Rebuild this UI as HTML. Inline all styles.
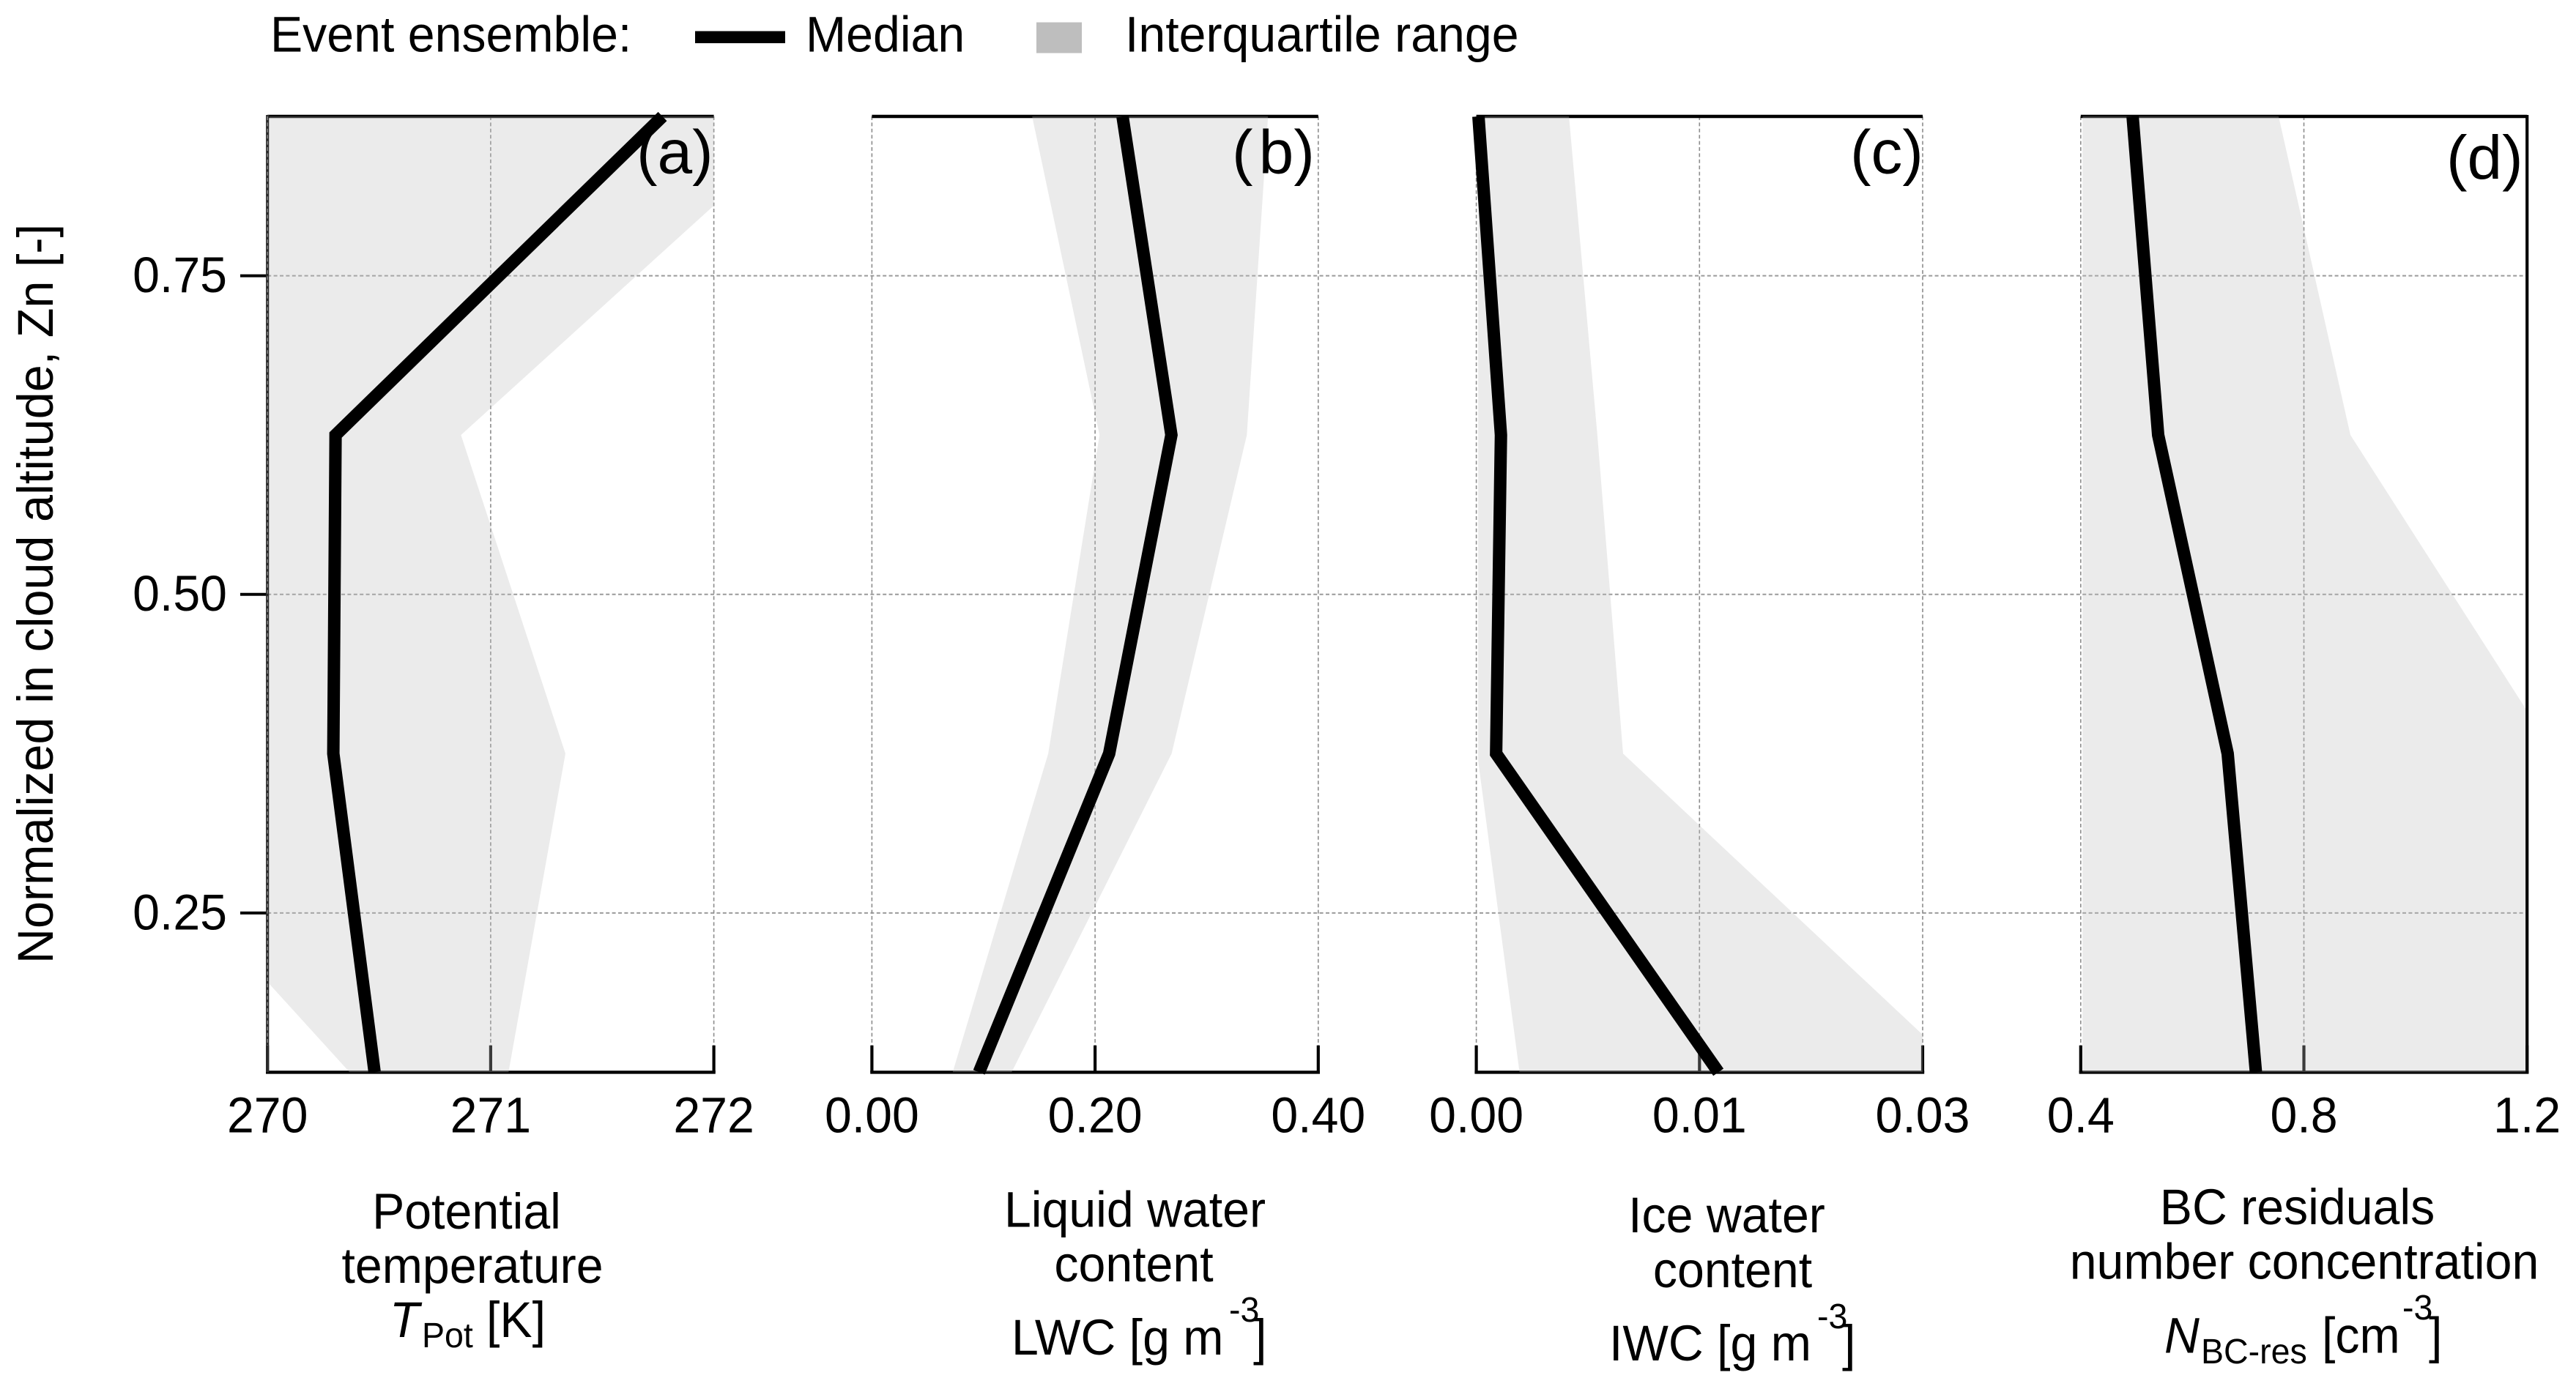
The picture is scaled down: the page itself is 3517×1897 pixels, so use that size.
<!DOCTYPE html>
<html lang="en">
<head>
<meta charset="utf-8">
<title>Event ensemble vertical profiles</title>
<style>
html,body{margin:0;padding:0;background:#fff;}
svg{display:block;}
text{font-family:"Liberation Sans",Arial,sans-serif;font-size:69px;fill:#000;}
.sub{font-size:48.5px;}
.sup{font-size:48.5px;}
.it{font-style:italic;}
.pl{font-size:84px;}
</style>
</head>
<body>
<svg id="chart" xmlns="http://www.w3.org/2000/svg" width="3517" height="1897" viewBox="0 0 3517 1897">
  <rect x="0" y="0" width="3517" height="1897" fill="#fff"/>
  <g id="marks"></g>

  <g>
    <text x="369" y="70.5">Event ensemble:</text>
    <rect x="949" y="42.5" width="123" height="16.5" fill="#000"/>
    <text x="1100" y="70.5">Median</text>
    <rect x="1415" y="30.5" width="62" height="42" fill="#bebebe"/>
    <text x="1536" y="70.5">Interquartile range</text>
  </g>

  <text transform="translate(72,811) rotate(-90) scale(0.965,1)" text-anchor="middle">Normalized in cloud altitude, Zn [-]</text>

  <g>
    <text x="637" y="1678" text-anchor="middle">Potential</text>
    <text x="645" y="1752" text-anchor="middle">temperature</text>
    <text class="it" x="532" y="1826">T</text>
    <text class="sub" x="576" y="1840">Pot</text>
    <text x="664" y="1826">[K]</text>
  </g>

  <g>
    <text x="1549.5" y="1675.5" text-anchor="middle">Liquid water</text>
    <text x="1548" y="1750" text-anchor="middle">content</text>
    <text x="1381" y="1850">LWC [g m</text>
    <text class="sup" x="1678" y="1805">-3</text>
    <text x="1711" y="1850">]</text>
  </g>

  <g>
    <text x="2357.5" y="1683" text-anchor="middle">Ice water</text>
    <text x="2365.5" y="1758" text-anchor="middle">content</text>
    <text x="2197" y="1858">IWC [g m</text>
    <text class="sup" x="2481" y="1814">-3</text>
    <text x="2515" y="1858">]</text>
  </g>

  <g>
    <text x="3136.5" y="1672" text-anchor="middle">BC residuals</text>
    <text x="3146" y="1746.5" text-anchor="middle">number concentration</text>
    <text class="it" x="2955" y="1847.5">N</text>
    <text class="sub" x="3005" y="1862">BC-res</text>
    <text x="3170" y="1847.5">[cm</text>
    <text class="sup" x="3280" y="1802">-3</text>
    <text x="3316" y="1847.5">]</text>
  </g>

  <text class="pl" x="869" y="236.5">(a)</text>
  <text class="pl" x="1682" y="236.5">(<tspan dx="8">b)</tspan></text>
  <text class="pl" x="2526" y="236.5">(c)</text>
  <text class="pl" x="3340" y="244">(d)</text>
</svg>

<script>
const altitudes = [0.875, 0.625, 0.375, 0.125];
const altitudeTicks = [0.75, 0.50, 0.25];
const altitudeTickLabels = ['0.75', '0.50', '0.25'];

const tempDomain = [270, 272];
const tempTicks = [270, 271, 272];
const tempTickLabels = ['270', '271', '272'];
const tempMedian = [271.77, 270.305, 270.295, 270.48];
const tempLower = [269.0, 269.2, 269.07, 270.368];
const tempUpper = [272.44, 270.867, 271.335, 271.08];

const lwcDomain = [0, 0.4];
const lwcTicks = [0, 0.2, 0.4];
const lwcTickLabels = ['0.00', '0.20', '0.40'];
const lwcMedian = [0.2246, 0.2684, 0.2126, 0.096];
const lwcLower = [0.1436, 0.204, 0.158, 0.0724];
const lwcUpper = [0.355, 0.336, 0.2686, 0.1252];

const iwcDomain = [0, 0.025];
const iwcTicks = [0, 0.0125, 0.025];
const iwcTickLabels = ['0.00', '0.01', '0.03'];
const iwcMedian = [0.00012, 0.00138, 0.00111, 0.01356];
const iwcLower = [0, 0, 0.00005, 0.00242];
const iwcUpper = [0.00519, 0.00678, 0.00822, 0.02724];

const bcDomain = [0.4, 1.2];
const bcTicks = [0.4, 0.8, 1.2];
const bcTickLabels = ['0.4', '0.8', '1.2'];
const bcMedian = [0.493, 0.5388, 0.6634, 0.714];
const bcLower = [0.35, 0.35, 0.35, 0.35];
const bcUpper = [0.7547, 0.8834, 1.249, 1.4];

const panelNames = ['temperature', 'lwc', 'iwc', 'bc'];
const panelDomains = [tempDomain, lwcDomain, iwcDomain, bcDomain];
const panelTicks = [tempTicks, lwcTicks, iwcTicks, bcTicks];
const panelTickLabels = [tempTickLabels, lwcTickLabels, iwcTickLabels, bcTickLabels];
const panelMedians = [tempMedian, lwcMedian, iwcMedian, bcMedian];
const panelLowers = [tempLower, lwcLower, iwcLower, bcLower];
const panelUppers = [tempUpper, lwcUpper, iwcUpper, bcUpper];

const NS = 'http://www.w3.org/2000/svg';
const root = document.getElementById('marks');
const TOP = 159, BOTTOM = 1464.4, PANEL_W = 609.4, FIRST_LEFT = 365.2, PITCH = 825.2;

function yScale(z) {
  return BOTTOM + (z - 0.125) / (0.875 - 0.125) * (TOP - BOTTOM);
}
function panelLeft(i) {
  return FIRST_LEFT + i * PITCH;
}
function xScale(i, v) {
  const d = panelDomains[i];
  return panelLeft(i) + (v - d[0]) / (d[1] - d[0]) * PANEL_W;
}
function shape(tag, attrs) {
  const el = document.createElementNS(NS, tag);
  for (const k in attrs) el.setAttribute(k, attrs[k]);
  return el;
}

const defs = shape('defs', {});
root.appendChild(defs);

/* horizontal dashed grid lines and y-axis ticks */
altitudeTicks.forEach(function (z, t) {
  const y = yScale(z);
  const grid = shape('line', {x1: panelLeft(0), x2: panelLeft(3) + PANEL_W, y1: y, y2: y, stroke: '#9a9a9a', 'stroke-width': 2, 'stroke-dasharray': '5 3.4'});
  
  
  root.appendChild(grid);
  const tick = shape('line', {x1: 328, x2: panelLeft(0), y1: y, y2: y, stroke: '#000', 'stroke-width': 4});
  
  
  root.appendChild(tick);
  const label = shape('text', {x: 310, y: y + 22.5, 'text-anchor': 'end'});
  
  
  label.textContent = altitudeTickLabels[t];
  root.appendChild(label);
});

panelNames.forEach(function (name, i) {
  const left = panelLeft(i), right = left + PANEL_W;

  /* vertical dashed grid */
  panelTicks[i].forEach(function (v) {
    const x = xScale(i, v);
    const g = shape('line', {x1: x, x2: x, y1: TOP, y2: 1428, stroke: '#8c8c8c', 'stroke-width': 1.6, 'stroke-dasharray': '5 3.4'});
    
    
    root.appendChild(g);
  });

  /* top and bottom spines */
  const topSpine = shape('line', {x1: left, x2: right, y1: TOP, y2: TOP, stroke: '#000', 'stroke-width': 4.4});
  
  
  root.appendChild(topSpine);
  const bottomSpine = shape('line', {x1: left - 2.2, x2: right + 2.2, y1: BOTTOM, y2: BOTTOM, stroke: '#000', 'stroke-width': 4.4});
  
  
  root.appendChild(bottomSpine);

  /* x ticks and labels */
  panelTicks[i].forEach(function (v, t) {
    const x = xScale(i, v);
    const tick = shape('line', {x1: x, x2: x, y1: 1427.7, y2: BOTTOM, stroke: '#000', 'stroke-width': 4.2});
    
    
    root.appendChild(tick);
    const label = shape('text', {x: x, y: 1546.5, 'text-anchor': 'middle'});
    
    
    label.textContent = panelTickLabels[i][t];
    root.appendChild(label);
  });

  /* interquartile band, clipped to the panel */
  const clip = shape('clipPath', {id: 'clip-' + name});
  clip.appendChild(shape('rect', {x: left + 2.5, y: TOP - 5, width: PANEL_W - 2.5, height: BOTTOM - TOP + 10}));
  defs.appendChild(clip);
  const upperPts = altitudes.map(function (z, k) { return xScale(i, panelUppers[i][k]) + ',' + yScale(z); });
  const lowerPts = altitudes.map(function (z, k) { return xScale(i, panelLowers[i][k]) + ',' + yScale(z); }).reverse();
  const band = shape('polygon', {points: upperPts.concat(lowerPts).join(' '), fill: '#bebebe', 'fill-opacity': 0.31, 'clip-path': 'url(#clip-' + name + ')'});
  
  
  root.appendChild(band);

  /* median line */
  const medPts = altitudes.map(function (z, k) { return xScale(i, panelMedians[i][k]) + ',' + yScale(z); });
  const med = shape('polyline', {points: medPts.join(' '), fill: 'none', stroke: '#000', 'stroke-width': 17, 'stroke-linejoin': 'miter', 'stroke-miterlimit': 2, 'stroke-linecap': 'butt'});
  
  
  root.appendChild(med);
});

/* outer left and right spines */
const leftSpine = shape('line', {x1: panelLeft(0), x2: panelLeft(0), y1: TOP - 2, y2: BOTTOM, stroke: '#2a2a2a', 'stroke-width': 4.2});


root.appendChild(leftSpine);
const leftDash = shape('line', {x1: panelLeft(0), x2: panelLeft(0), y1: TOP, y2: 1428, stroke: '#8a8a8a', 'stroke-width': 1.4, 'stroke-dasharray': '5 3.4'});


root.appendChild(leftDash);
const rightEdge = panelLeft(3) + PANEL_W;
const rightSpine = shape('line', {x1: rightEdge, x2: rightEdge, y1: TOP - 2, y2: BOTTOM + 2, stroke: '#000', 'stroke-width': 4.2});


root.appendChild(rightSpine);

/* reference glyphs are slightly narrower than tall: squeeze text horizontally around its anchor */
document.querySelectorAll('#chart text[x]').forEach(function (t) {
  const x = t.getAttribute('x'), y = t.getAttribute('y');
  const sx = t.classList.contains('pl') ? 1.02 : 0.96;
  t.removeAttribute('x');
  t.removeAttribute('y');
  t.setAttribute('transform', 'translate(' + x + ',' + y + ') scale(' + sx + ',1)');
});
</script>
</body>
</html>
